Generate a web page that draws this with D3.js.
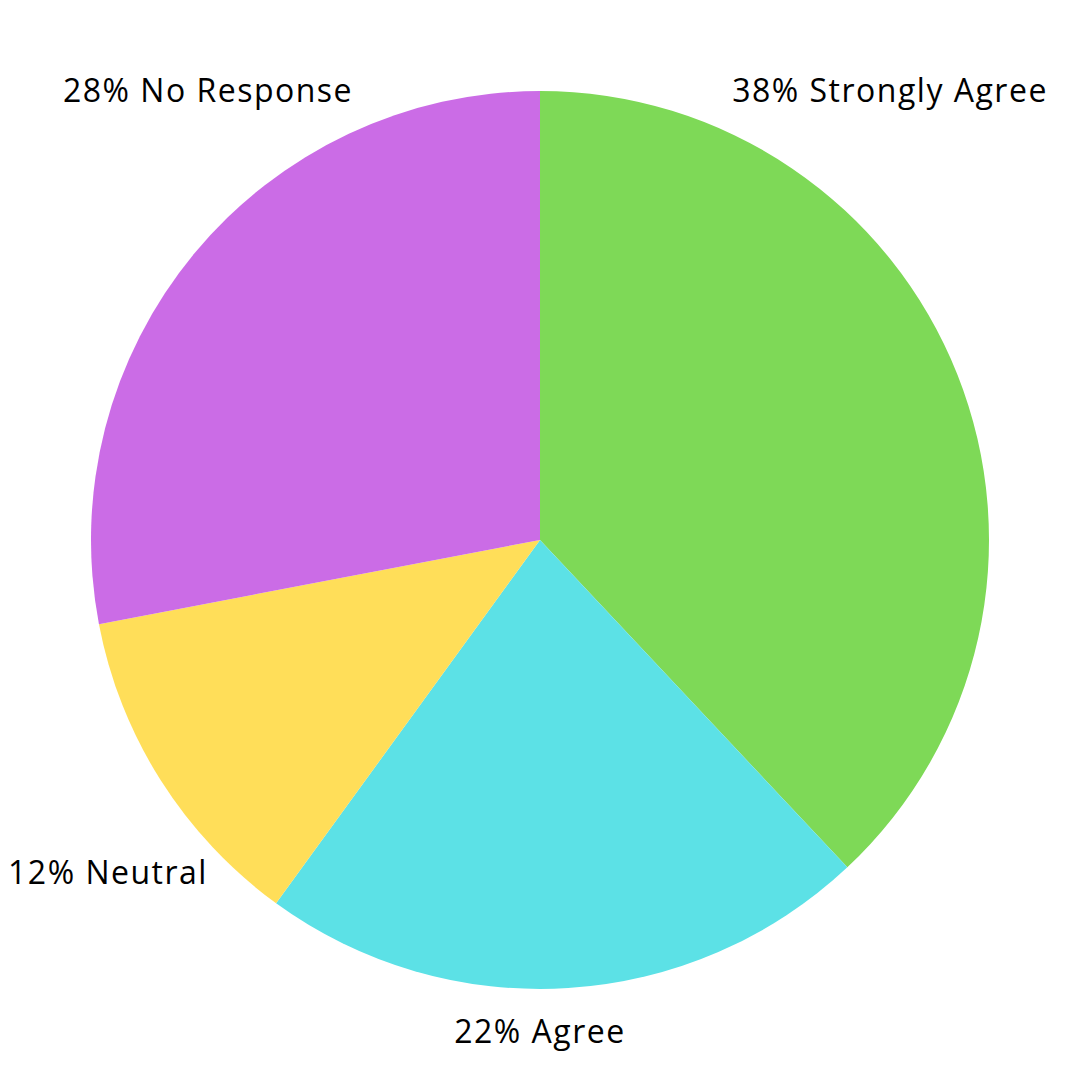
<!DOCTYPE html>
<html><head><meta charset="utf-8">
<script src="https://cdn.jsdelivr.net/npm/d3@7"></script>
<style>html,body{margin:0;padding:0;background:#fff;}svg{display:block;}</style>
</head><body>
<svg id="chart" width="1080" height="1080"></svg>
<script>
const categories = ["Strongly Agree", "Agree", "Neutral", "No Response"];
const values = [38, 22, 12, 28];
const colors = ["#7ED957", "#5CE1E6", "#FFDE59", "#CB6CE6"];
// label layout (anchor centre x, baseline y)
const labelPos = [[890, 102], [540, 1043], [108, 884], [208, 102]];

const svg = d3.select("#chart");
const cx = 540, cy = 540, r = 449;
const data = categories.map((c, i) => ({cat: c, value: values[i], i}));
const pie = d3.pie().value(d => d.value).sort(null);
const arc = d3.arc().innerRadius(0).outerRadius(r);
const g = svg.append("g").attr("transform", `translate(${cx},${cy})`);
g.selectAll("path").data(pie(data)).join("path")
  .attr("d", arc).attr("fill", d => colors[d.data.i]);

svg.selectAll("text.lbl").data(data).join("text")
  .attr("class", "lbl")
  .attr("x", d => labelPos[d.i][0]).attr("y", d => labelPos[d.i][1])
  .attr("text-anchor", "middle")
  .attr("font-family", "'Open Sans', sans-serif")
  .attr("font-size", 32)
  .attr("letter-spacing", "1.5px")
  .attr("fill", "#000")
  .text(d => `${d.value}% ${d.cat}`);
</script>
</body></html>
